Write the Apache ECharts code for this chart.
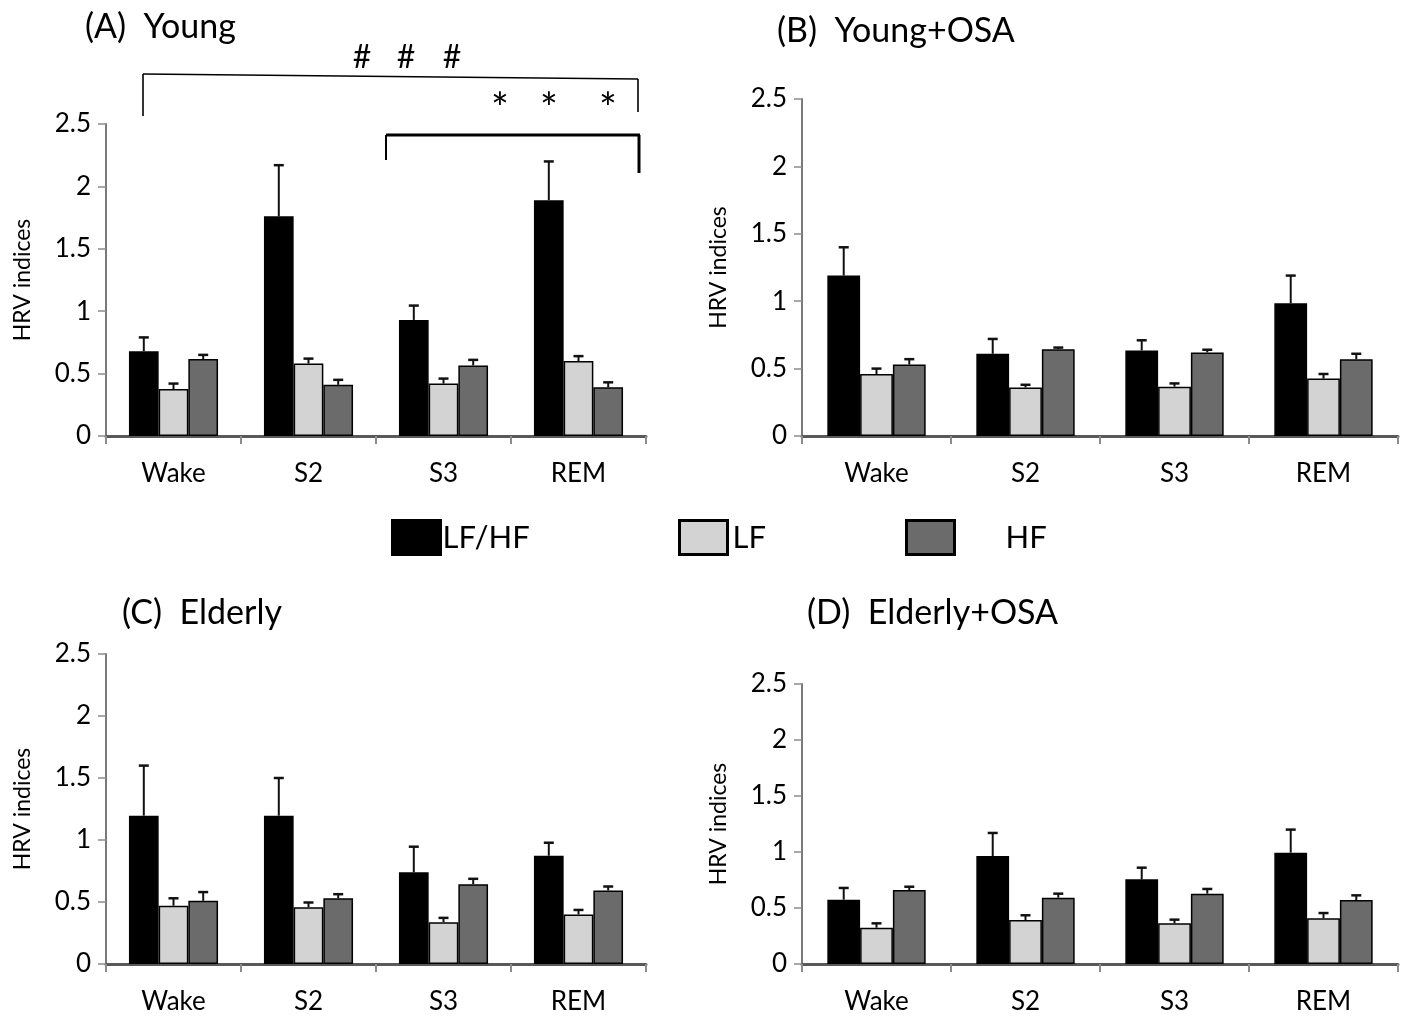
<!DOCTYPE html>
<html>
<head>
<meta charset="utf-8">
<script src="https://cdn.jsdelivr.net/npm/echarts@6/dist/echarts.min.js"></script>
<style>
html,body{margin:0;padding:0;background:#fff;}
#chart{width:1407px;height:1016px;}
</style>
</head>
<body>
<div id="chart"></div>
<script>
// ---------- data ----------
const categories = ['Wake', 'S2', 'S3', 'REM'];
const seriesNames = ['LF/HF', 'LF', 'HF'];
const yTicks = [0, 0.5, 1, 1.5, 2, 2.5];
const panelTitles = ['(A)  Young', '(B)  Young+OSA', '(C)  Elderly', '(D)  Elderly+OSA'];

// Panel A: Young
const lfhfA = [0.68, 1.76, 0.93, 1.89];
const lfhfErrA = [0.11, 0.41, 0.115, 0.31];
const lfA = [0.376, 0.58, 0.42, 0.60];
const lfErrA = [0.044, 0.04, 0.04, 0.04];
const hfA = [0.616, 0.41, 0.565, 0.39];
const hfErrA = [0.034, 0.04, 0.045, 0.04];

// Panel B: Young+OSA
const lfhfB = [1.19, 0.61, 0.634, 0.985];
const lfhfErrB = [0.21, 0.11, 0.076, 0.205];
const lfB = [0.46, 0.36, 0.366, 0.426];
const lfErrB = [0.04, 0.02, 0.024, 0.034];
const hfB = [0.53, 0.644, 0.62, 0.57];
const hfErrB = [0.04, 0.012, 0.02, 0.04];

// Panel C: Elderly
const lfhfC = [1.196, 1.196, 0.74, 0.873];
const lfhfErrC = [0.404, 0.304, 0.206, 0.105];
const lfC = [0.47, 0.458, 0.337, 0.40];
const lfErrC = [0.06, 0.038, 0.035, 0.036];
const hfC = [0.51, 0.53, 0.644, 0.593];
const hfErrC = [0.07, 0.033, 0.043, 0.032];

// Panel D: Elderly+OSA
const lfhfD = [0.574, 0.964, 0.756, 0.994];
const lfhfErrD = [0.105, 0.206, 0.104, 0.206];
const lfD = [0.324, 0.393, 0.363, 0.408];
const lfErrD = [0.039, 0.042, 0.033, 0.047];
const hfD = [0.66, 0.592, 0.628, 0.571];
const hfErrD = [0.03, 0.036, 0.042, 0.042];

// ---------- layout / style ----------
const FONT = 'Lato, "Open Sans", sans-serif';
const colors = ['#000000', '#d3d3d3', '#6b6b6b'];
const BAR_FRAC = 0.22;

const panels = [
  { means: [lfhfA, lfA, hfA], errs: [lfhfErrA, lfErrA, hfErrA], grid: { left: 106, width: 540, top: 124, height: 312 } },
  { means: [lfhfB, lfB, hfB], errs: [lfhfErrB, lfErrB, hfErrB], grid: { left: 802, width: 596, top: 99, height: 337 } },
  { means: [lfhfC, lfC, hfC], errs: [lfhfErrC, lfErrC, hfErrC], grid: { left: 106, width: 540, top: 654, height: 310 } },
  { means: [lfhfD, lfD, hfD], errs: [lfhfErrD, lfErrD, hfErrD], grid: { left: 802, width: 596, top: 684, height: 280 } }
];
const titlePos = [
  { left: 85, top: 10 }, { left: 777, top: 14 }, { left: 122, top: 596 }, { left: 807, top: 596 }
];

const grids = [], xAxes = [], yAxes = [], series = [], titles = [];
panels.forEach((p, gi) => {
  grids.push(Object.assign({ containLabel: false }, p.grid));
  titles.push({
    text: panelTitles[gi], left: titlePos[gi].left, top: titlePos[gi].top, padding: 0,
    textStyle: { fontFamily: FONT, fontSize: 34, fontWeight: 'normal', color: '#000' }
  });
  xAxes.push({
    type: 'category', gridIndex: gi, data: categories,
    axisLine: { show: true, lineStyle: { color: '#595959', width: 3 } },
    axisTick: { show: true, alignWithLabel: false, length: 8, lineStyle: { color: '#8c8c8c', width: 2 } },
    axisLabel: { fontFamily: FONT, fontSize: 26, color: '#000', margin: 25 },
    splitLine: { show: false }
  });
  yAxes.push({
    type: 'value', gridIndex: gi, min: yTicks[0], max: yTicks[yTicks.length - 1], interval: 0.5,
    name: 'HRV indices', nameLocation: 'middle', nameRotate: 90, nameGap: 72,
    nameTextStyle: { fontFamily: FONT, fontSize: 23, color: '#000' },
    axisLine: { show: true, lineStyle: { color: '#7a7a7a', width: 2 } },
    axisTick: { show: true, length: 8, lineStyle: { color: '#8c8c8c', width: 1.5 } },
    axisLabel: { fontFamily: FONT, fontSize: 26, color: '#000', margin: 15 },
    splitLine: { show: false }
  });
  p.means.forEach((arr, si) => {
    series.push({
      type: 'bar', name: seriesNames[si], xAxisIndex: gi, yAxisIndex: gi,
      data: arr, barWidth: (BAR_FRAC * 100) + '%', barGap: '0%',
      itemStyle: { color: colors[si], borderColor: '#000', borderWidth: 1.5 },
      emphasis: { disabled: true }, z: 2
    });
  });
  const errData = [];
  p.means.forEach((arr, si) => {
    arr.forEach((v, ci) => { errData.push([ci, si, v, v + p.errs[si][ci]]); });
  });
  series.push({
    type: 'custom', name: 'err' + gi, xAxisIndex: gi, yAxisIndex: gi, z: 3,
    data: errData, encode: { x: 0, y: 3 },
    renderItem: function (params, api) {
      const ci = api.value(0), si = api.value(1), v = api.value(2), top = api.value(3);
      const band = api.size([1, 0])[0];
      const bw = band * BAR_FRAC;
      const x = api.coord([ci, 0])[0] + (si - 1) * bw;
      const y0 = api.coord([ci, v])[1];
      const y1 = api.coord([ci, top])[1];
      return {
        type: 'group', children: [
          { type: 'line', shape: { x1: x, y1: y0, x2: x, y2: y1 }, style: { stroke: '#111', lineWidth: 2 } },
          { type: 'line', shape: { x1: x - 5, y1: y1, x2: x + 5, y2: y1 }, style: { stroke: '#111', lineWidth: 2.5 } }
        ]
      };
    }
  });
});

const legendBase = {
  orient: 'horizontal', top: 519, itemWidth: 48, itemHeight: 34, padding: 0,
  icon: 'rect', selectedMode: false,
  itemStyle: { borderColor: '#000', borderWidth: 3 },
  textStyle: { fontFamily: FONT, fontSize: 31, color: '#000' }
};
const legends = [
  Object.assign({}, legendBase, { left: 391, data: [seriesNames[0]], textStyle: Object.assign({}, legendBase.textStyle, { padding: [0, 0, 0, -3] }) }),
  Object.assign({}, legendBase, { left: 678, data: [seriesNames[1]], textStyle: Object.assign({}, legendBase.textStyle, { padding: [0, 0, 0, 0] }) }),
  Object.assign({}, legendBase, { left: 905, data: [seriesNames[2]], textStyle: Object.assign({}, legendBase.textStyle, { padding: [0, 0, 0, 46] }) })
];

// significance annotations for panel A
const graphic = [
  { type: 'line', shape: { x1: 143, y1: 74, x2: 638, y2: 79 }, style: { stroke: '#000', lineWidth: 1.6 } },
  { type: 'line', shape: { x1: 143, y1: 74, x2: 143, y2: 116 }, style: { stroke: '#000', lineWidth: 1.6 } },
  { type: 'line', shape: { x1: 638, y1: 79, x2: 638, y2: 112 }, style: { stroke: '#000', lineWidth: 1.6 } },
  { type: 'line', shape: { x1: 386, y1: 135, x2: 640, y2: 135 }, style: { stroke: '#000', lineWidth: 3 } },
  { type: 'line', shape: { x1: 386, y1: 135, x2: 386, y2: 160 }, style: { stroke: '#000', lineWidth: 2 } },
  { type: 'line', shape: { x1: 639, y1: 135, x2: 639, y2: 173 }, style: { stroke: '#000', lineWidth: 3 } }
];
[362, 406, 452].forEach(x => graphic.push({ type: 'text', x: x, y: 58, style: { text: '#', font: '32px ' + FONT, fill: '#000', textAlign: 'center', textVerticalAlign: 'middle' } }));
[500, 549, 608].forEach(x => graphic.push({ type: 'text', x: x, y: 109, style: { text: '*', font: '42px ' + FONT, fill: '#000', textAlign: 'center', textVerticalAlign: 'middle' } }));

const chart = echarts.init(document.getElementById('chart'));
chart.setOption({
  backgroundColor: '#fff',
  animation: false,
  title: titles,
  legend: legends,
  grid: grids,
  xAxis: xAxes,
  yAxis: yAxes,
  series: series,
  graphic: graphic
});
</script>
</body>
</html>
